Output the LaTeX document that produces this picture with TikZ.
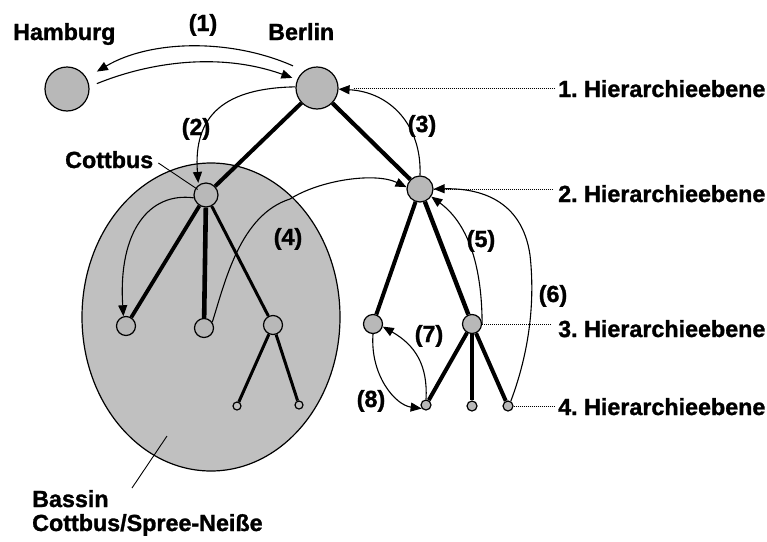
\documentclass[tikz,border=0pt]{standalone}
\usepackage{fontspec}
\setmainfont{Liberation Sans}[BoldFeatures={FakeBold=1.3}]
\usetikzlibrary{arrows.meta}
\definecolor{nodegray}{RGB}{184,184,184}
\definecolor{ellgray}{RGB}{192,192,192}
\frenchspacing
\begin{document}
\begin{tikzpicture}[x=1pt,y=-1pt,
  knot/.style={circle,draw,line width=1.2pt,fill=nodegray,inner sep=0pt,minimum size=#1},
  lbl/.style={font=\fontsize{23.3}{27}\selectfont\bfseries,inner sep=0pt},
  flow/.style={line width=1.1pt,-{Triangle[length=11pt,width=9pt]}},
  treeline/.style={line width=#1},
  levelline/.style={dash pattern=on 1pt off 1pt,line width=0.8pt},
  pointer/.style={line width=0.9pt}]
\useasboundingbox (0,0) rectangle (767,541);
\fill[white] (0,0) rectangle (767,541);

% basin
\draw[fill=ellgray,line width=1.2pt] (211,317) ellipse [x radius=129,y radius=154];

% nodes
\node[knot=44pt] (ham) at (67,89) {};
\node[knot=42pt] (ber) at (317,88) {};
\node[knot=24pt] (cot) at (206,195) {};
\node[knot=26pt] (l2) at (420,189) {};
\node[knot=19pt] (c1) at (126,326) {};
\node[knot=19pt] (c2) at (204,328) {};
\node[knot=19pt] (c3) at (273,325) {};
\node[knot=8pt,fill=ellgray] (c31) at (237,406) {};
\node[knot=8pt,fill=ellgray] (c32) at (299,405) {};
\node[knot=19pt] (r1) at (373,324) {};
\node[knot=19pt] (r2) at (472,324) {};
\node[knot=10pt] (r21) at (426,405) {};
\node[knot=10pt] (r22) at (472,406) {};
\node[knot=10pt] (r23) at (508,406) {};

% tree edges
\draw[treeline=4pt] (ber) -- (cot);
\draw[treeline=4.2pt] (ber) -- (l2);
\draw[treeline=3.8pt] (cot) -- (c1);
\draw[treeline=4.6pt] (cot) -- (c2);
\draw[treeline=3pt] (cot) -- (c3);
\draw[treeline=3pt] (c3) -- (c31);
\draw[treeline=3pt] (c3) -- (c32);
\draw[treeline=4pt] (l2) -- (r1);
\draw[treeline=4.4pt] (l2) -- (r2);
\draw[treeline=4pt] (r2) -- (r21);
\draw[treeline=3.2pt] (r2) -- (r22);
\draw[treeline=4pt] (r2) -- (r23);

% labels
\node[lbl,anchor=base west] (hamlab) at (13,40) {Hamburg};
\node[lbl,anchor=base west] (berlab) at (268,40) {Berlin};
\node[lbl,anchor=base west] (cotlab) at (65,168) {Cottbus};
\node[lbl,anchor=base] (n1) at (203,31) {(1)};
\node[lbl,anchor=base] (n2) at (196,135) {(2)};
\node[lbl,anchor=base] (n3) at (422,132) {(3)};
\node[lbl,anchor=base] (n4) at (288,245) {(4)};
\node[lbl,anchor=base] (n5) at (481,247) {(5)};
\node[lbl,anchor=base] (n6) at (553,302) {(6)};
\node[lbl,anchor=base] (n7) at (429,342) {(7)};
\node[lbl,anchor=base] (n8) at (371,407) {(8)};
\node[lbl,anchor=base west] (lev1) at (558,97) {1. Hierarchieebene};
\node[lbl,anchor=base west] (lev2) at (558,202) {2. Hierarchieebene};
\node[lbl,anchor=base west] (lev3) at (558,337) {3. Hierarchieebene};
\node[lbl,anchor=base west] (lev4) at (558,415) {4. Hierarchieebene};
\node[lbl,anchor=base west] (bas1) at (32,507) {Bassin};
\node[lbl,anchor=base west] (bas2) at (32,531) {Cottbus/Spree-Neiße};

% level dotted lines
\draw[levelline,shorten <=15pt,shorten >=4pt] (ber.east) -- (ber.east -| lev1.west);
\draw[levelline,shorten >=6pt] (l2.east) -- (l2.east -| lev2.west);
\draw[levelline,shorten >=6pt] (r2.east) -- (r2.east -| lev3.west);
\draw[levelline,shorten >=4pt] (r23.east) -- (r23.east -| lev4.west);

% pointers
\draw[pointer,shorten <=6pt,shorten >=10pt] (cotlab.east) -- (cot.center);
\coordinate (bp1) at (132,488);
\coordinate (bp2) at (167,436);
\draw[pointer] (bp1) -- (bp2);

% flows
\draw[flow,shorten <=12pt,shorten >=12pt] (ber.127) .. controls (230,38) and (150,40) .. (ham.30);
\draw[flow,shorten <=8pt,shorten >=5pt] (ham.6) .. controls (150,62) and (220,52) .. (ber.157);
\draw[flow,shorten >=2pt] (ber.177) .. controls (225,88) and (193,115) .. (cot.127);
\draw[flow] (cot.193) .. controls (150,192) and (118,230) .. (c1.105);
\draw[flow] (l2.north) .. controls (422,125) and (390,92) .. (ber.-3);
\draw[flow] (c2.35) .. controls (225,282) and (240,215) .. (290,199) .. controls (320,180) and (375,172) .. (l2.172);
\draw[flow] (r2.east) .. controls (482,270) and (470,225) .. (l2.-34);
\draw[flow] (r23.60) .. controls (530,350) and (535,300) .. (530,255) .. controls (522,200) and (480,188) .. (l2.east);
\draw[flow] (r21.north) .. controls (428,365) and (415,345) .. (r1.-15);
\draw[flow] (r1.south) .. controls (370,375) and (395,405) .. (r21.219);
\end{tikzpicture}
\end{document}
